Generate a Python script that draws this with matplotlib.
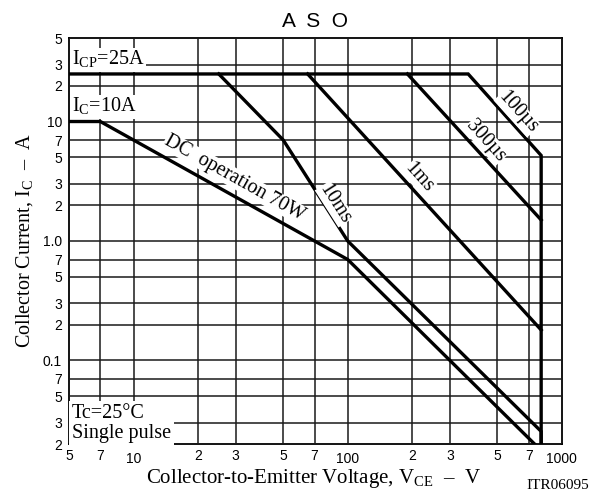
import numpy as np
import matplotlib
matplotlib.use('Agg')
import matplotlib.pyplot as plt
from matplotlib.ticker import FixedLocator, FixedFormatter, NullFormatter

plt.rcParams['font.family'] = ['Liberation Serif', 'DejaVu Serif']
plt.rcParams['mathtext.fontset'] = 'custom'
plt.rcParams['mathtext.rm'] = 'Liberation Serif'

# safe operating area curves (VCE in V, IC in A)
dc_v = [5, 7, 100, 745]
dc_i = [10, 10, 0.7, 0.02]
ms10_v = [25, 50, 100, 800, 800]
ms10_i = [25, 7, 1.0, 0.0255, 0.02]
ms1_v = [65, 800]
ms1_i = [25, 0.18]
us300_v = [190, 800]
us300_i = [25, 1.5]
us100_v = [5, 365, 800, 800]
us100_i = [25, 25, 5.2, 0.02]

xmaj = [10, 100, 1000]
xmaj_lab = ['10', '100', '1000']
xmin = [5, 7, 20, 30, 50, 70, 200, 300, 500, 700]
xmin_lab = ['5', '7', '2', '3', '5', '7', '2', '3', '5', '7']
yt = [50, 30, 20, 10, 7, 5, 3, 2, 1, 0.7, 0.5, 0.3, 0.2, 0.1, 0.07, 0.05, 0.03, 0.02]
yt_lab = ['5', '3', '2', '10', '7', '5', '3', '2', '1.0', '7', '5', '3', '2', '0.1', '7', '5', '3', '2']

xlo, xhi = 5, 1000
ylo, yhi = 0.02, 50

fig = plt.figure(figsize=(5.91, 5.0), dpi=100)
ax = fig.add_axes([0.1168, 0.112, 0.834, 0.812])
ax.set_xscale('log')
ax.set_yscale('log')
ax.set_xlim(xlo, xhi)
ax.set_ylim(ylo, yhi)

sans = 'Liberation Sans'
ax.xaxis.set_major_locator(FixedLocator(xmaj))
ax.xaxis.set_major_formatter(FixedFormatter(xmaj_lab))
ax.xaxis.set_minor_locator(FixedLocator(xmin))
ax.xaxis.set_minor_formatter(FixedFormatter(xmin_lab))
ax.yaxis.set_major_locator(FixedLocator(yt))
ax.yaxis.set_major_formatter(FixedFormatter(yt_lab))
ax.yaxis.set_minor_locator(FixedLocator([]))
ax.yaxis.set_minor_formatter(NullFormatter())
ax.tick_params(axis='x', which='major', length=0, pad=6, labelsize=10)
ax.tick_params(axis='x', which='minor', length=0, pad=3.5, labelsize=10)
ax.tick_params(axis='y', which='both', length=0, pad=5, labelsize=10)
for lab in ax.get_xticklabels(which='both') + ax.get_yticklabels():
    lab.set_fontfamily(sans)
for s in ax.spines.values():
    s.set_linewidth(1.3)

# grid on every labelled value
ax.grid(True, which='major', axis='both', color='#1a1a1a', linewidth=1.1, linestyle='-')
ax.grid(True, which='minor', axis='x', color='#1a1a1a', linewidth=1.1, linestyle='-')
ax.set_axisbelow(False)

lw = 2.4
for v, i in [(dc_v, dc_i), (ms10_v, ms10_i), (ms1_v, ms1_i), (us300_v, us300_i), (us100_v, us100_i)]:
    ax.plot(v, i, color='black', lw=lw, solid_joinstyle='miter', zorder=3)

wb = dict(facecolor='white', edgecolor='none', pad=1.0)
fs = 14.5
ax.text(5.15, 29.7, r'I$_{\mathregular{CP}}$=25A', fontsize=fs, ha='left', va='baseline', bbox=wb, zorder=4)
ax.text(5.15, 12.0, r'I$_{\mathregular{C}}$=10A', fontsize=fs, ha='left', va='baseline', bbox=wb, zorder=4)
ax.text(5.15, 0.0205, 'Tc=25°C\nSingle pulse', fontsize=fs, ha='left', va='bottom', linespacing=1.05,
        bbox=dict(facecolor='white', edgecolor='none', pad=2.0), zorder=4)

tb = dict(facecolor='white', edgecolor='none', pad=0.2)
ax.text(29.5, 3.37, 'DC  operation 70W', fontsize=fs, rotation=-29.2, ha='center', va='center',
        rotation_mode='anchor', bbox=tb, zorder=4)
ax.text(87, 2.05, '10ms', fontsize=fs, rotation=-57.4, ha='center', va='center',
        rotation_mode='anchor', bbox=tb, zorder=4)
ax.text(215, 3.37, '1ms', fontsize=fs, rotation=-48, ha='center', va='center',
        rotation_mode='anchor', bbox=tb, zorder=4)
ax.text(442, 6.87, '300µs', fontsize=fs, rotation=-48, ha='center', va='center',
        rotation_mode='anchor', bbox=tb, zorder=4)
ax.text(620, 11.9, '100µs', fontsize=fs, rotation=-48, ha='center', va='center',
        rotation_mode='anchor', bbox=tb, zorder=4)

ax.set_title('A  S  O', fontsize=15, fontfamily=sans, pad=8)
ax.set_ylabel(r'Collector Current, I$_{\mathregular{C}}$  –  A', fontsize=fs, labelpad=6)
fig.text(0.53, 0.034, r'Collector-to-Emitter Voltage, V$_{\mathregular{CE}}$  –  V', fontsize=15,
         ha='center', va='baseline')
fig.text(0.997, 0.022, 'ITR06095', fontsize=11, ha='right', va='baseline')

fig.savefig('out.png', dpi=100)
